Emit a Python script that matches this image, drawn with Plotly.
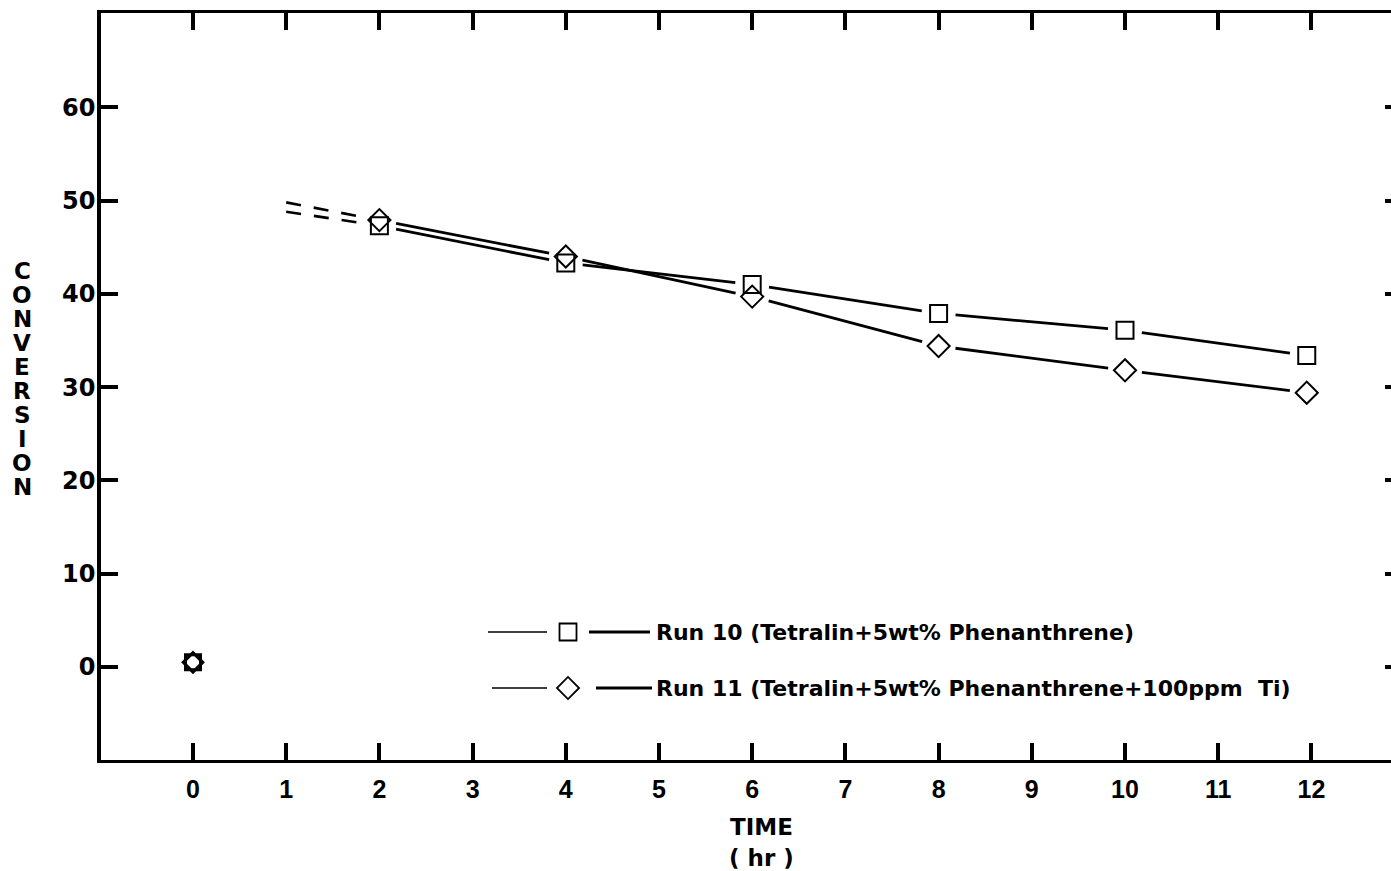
import plotly.graph_objects as go

# ---------------- data ----------------
time_run10 = [2, 4, 6, 8, 10, 11.95]
conv_run10 = [47.3, 43.3, 41.0, 37.9, 36.1, 33.4]
time_run11 = [2, 4, 6, 8, 10, 11.95]
conv_run11 = [47.9, 44.0, 39.7, 34.4, 31.8, 29.4]
time_start = [0]
conv_start = [0.5]
extrap_time = [1, 2]
extrap_run10 = [48.8, 47.3]
extrap_run11 = [49.8, 47.9]

x_ticks = list(range(0, 13))
y_ticks = [0, 10, 20, 30, 40, 50, 60]
legend_labels = ["Run 10 (Tetralin+5wt% Phenanthrene)",
                 "Run 11 (Tetralin+5wt% Phenanthrene+100ppm\u00a0\u00a0Ti)"]
y_title = "CONVERSION"
x_title = ["TIME", "( hr )"]

# ---------------- layout geometry ----------------
W, H = 1391, 871
ML, MR, MT, MB = 101, 0, 13, 111
XR = [-0.987, 12.854]
YR = [-9.97, 70.1]
PW, PH = W - ML - MR, H - MT - MB
KX = PW / (XR[1] - XR[0])   # px per hour
KY = PH / (YR[1] - YR[0])   # px per conversion unit
GAP_PX = 17                 # blank space left around each plotted symbol


def px_x(px):
    return (px - ML) / PW


def px_y(py):
    return (H - MB - py) / PH


def data_x(px):
    return XR[0] + (px - ML) / PW * (XR[1] - XR[0])


def data_y(py):
    return YR[0] + (H - MB - py) / PH * (YR[1] - YR[0])


def gapped(xs, ys, gap_start=True, gap_end=True):
    """Connect consecutive points, leaving GAP_PX of blank space at the symbols."""
    ox, oy = [], []
    n = len(xs)
    for i in range(n - 1):
        dx = (xs[i + 1] - xs[i]) * KX
        dy = (ys[i + 1] - ys[i]) * KY
        length = (dx * dx + dy * dy) ** 0.5
        f0 = GAP_PX / length if (gap_start or i > 0) else 0.0
        f1 = GAP_PX / length if (gap_end or i < n - 2) else 0.0
        ox += [xs[i] + (xs[i + 1] - xs[i]) * f0, xs[i + 1] - (xs[i + 1] - xs[i]) * f1, None]
        oy += [ys[i] + (ys[i + 1] - ys[i]) * f0, ys[i + 1] - (ys[i + 1] - ys[i]) * f1, None]
    return ox, oy


BLACK = "black"
fig = go.Figure()

# dashed extrapolations toward t = 1 h
for ys in (extrap_run10, extrap_run11):
    gx, gy = gapped(extrap_time, ys, gap_start=False, gap_end=True)
    fig.add_trace(go.Scatter(x=gx, y=gy, mode="lines", connectgaps=False,
                             line=dict(color=BLACK, width=2.6, dash="15px,13px"),
                             showlegend=False, hoverinfo="skip"))
# solid connecting lines
for xs, ys in ((time_run10, conv_run10), (time_run11, conv_run11)):
    gx, gy = gapped(xs, ys)
    fig.add_trace(go.Scatter(x=gx, y=gy, mode="lines", connectgaps=False,
                             line=dict(color=BLACK, width=2.8),
                             showlegend=False, hoverinfo="skip"))
# markers
fig.add_trace(go.Scatter(x=time_run10, y=conv_run10, mode="markers", name="Run 10",
                         marker=dict(symbol="square-open", size=17, color=BLACK,
                                     line=dict(width=2, color=BLACK)),
                         showlegend=False))
fig.add_trace(go.Scatter(x=time_run11, y=conv_run11, mode="markers", name="Run 11",
                         marker=dict(symbol="diamond-open", size=17, color=BLACK,
                                     line=dict(width=2, color=BLACK)),
                         showlegend=False))
for sym in ("square-open", "diamond-open"):
    fig.add_trace(go.Scatter(x=time_start, y=conv_start, mode="markers",
                             marker=dict(symbol=sym, size=15, color=BLACK,
                                         line=dict(width=3, color=BLACK)),
                             showlegend=False, hoverinfo="skip"))

# invisible trace anchoring the right-hand tick axis
fig.add_trace(go.Scatter(x=[None], y=[None], yaxis="y2", showlegend=False,
                         hoverinfo="skip"))

# ---------------- custom legend ----------------
shapes = []
annotations = []
legend_rows = [
    dict(y=632, l1=(488, 547), l2=(589, 650), sym="square-open"),
    dict(y=688, l1=(492, 547), l2=(596, 652), sym="diamond-open"),
]
leg_mx, leg_my, leg_sym = [], [], []
for row, label in zip(legend_rows, legend_labels):
    yy = px_y(row["y"])
    shapes.append(dict(type="line", xref="paper", yref="paper",
                       x0=px_x(row["l1"][0]), x1=px_x(row["l1"][1]), y0=yy, y1=yy,
                       line=dict(color=BLACK, width=1.6)))
    shapes.append(dict(type="line", xref="paper", yref="paper",
                       x0=px_x(row["l2"][0]), x1=px_x(row["l2"][1]), y0=yy, y1=yy,
                       line=dict(color=BLACK, width=2.8)))
    leg_mx.append(data_x(568))
    leg_my.append(data_y(row["y"]))
    leg_sym.append(row["sym"])
    annotations.append(dict(text=label, xref="paper", yref="paper",
                            x=px_x(654), y=yy, xanchor="left", yanchor="middle",
                            showarrow=False,
                            font=dict(family="DejaVu Sans", size=22,
                                      color=BLACK, weight="bold")))
fig.add_trace(go.Scatter(x=leg_mx, y=leg_my, mode="markers",
                         marker=dict(symbol=leg_sym, size=17, color=BLACK,
                                     line=dict(width=1.8, color=BLACK)),
                         showlegend=False, hoverinfo="skip"))

# y-axis title: stacked letters
n = len(y_title)
top_c, bot_c = 271, 487
for i, ch in enumerate(y_title):
    py = top_c + (bot_c - top_c) * i / (n - 1)
    annotations.append(dict(text=ch, xref="paper", yref="paper",
                            x=px_x(22), y=px_y(py), xanchor="center", yanchor="middle",
                            showarrow=False,
                            font=dict(family="DejaVu Sans", size=23,
                                      color=BLACK, weight="bold")))
# x-axis title
for txt, py in zip(x_title, (827, 858)):
    annotations.append(dict(text=txt, xref="paper", yref="paper",
                            x=px_x(761), y=px_y(py), xanchor="center", yanchor="middle",
                            showarrow=False,
                            font=dict(family="DejaVu Sans", size=23,
                                      color=BLACK, weight="bold")))

fig.update_layout(
    width=W, height=H,
    margin=dict(l=ML, r=MR, t=MT, b=MB, pad=0),
    paper_bgcolor="white", plot_bgcolor="white",
    showlegend=False,
    shapes=shapes, annotations=annotations,
    xaxis=dict(range=XR, tickmode="array", tickvals=x_ticks,
               ticktext=[str(v) for v in x_ticks],
               ticks="inside", ticklen=17, tickwidth=3.5, tickcolor=BLACK,
               showline=True, linewidth=3, linecolor=BLACK, mirror="ticks",
               showgrid=False, zeroline=False, ticklabelstandoff=5,
               tickfont=dict(family="Liberation Sans", size=25, color=BLACK,
                             weight="bold")),
    yaxis=dict(range=YR, tickmode="array", tickvals=y_ticks,
               ticktext=[str(v) for v in y_ticks],
               ticks="inside", ticklen=17, tickwidth=3.5, tickcolor=BLACK,
               showline=True, linewidth=3.5, linecolor=BLACK, mirror=False,
               showgrid=False, zeroline=False, ticklabelstandoff=-3,
               tickfont=dict(family="DejaVu Sans", size=24, color=BLACK,
                             weight="bold")),
    yaxis2=dict(range=YR, overlaying="y", side="right", tickmode="array",
                tickvals=y_ticks, ticks="inside", ticklen=6, tickwidth=3.5,
                tickcolor=BLACK, showticklabels=False, showline=False,
                showgrid=False, zeroline=False),
)

fig.write_html("out.html")
